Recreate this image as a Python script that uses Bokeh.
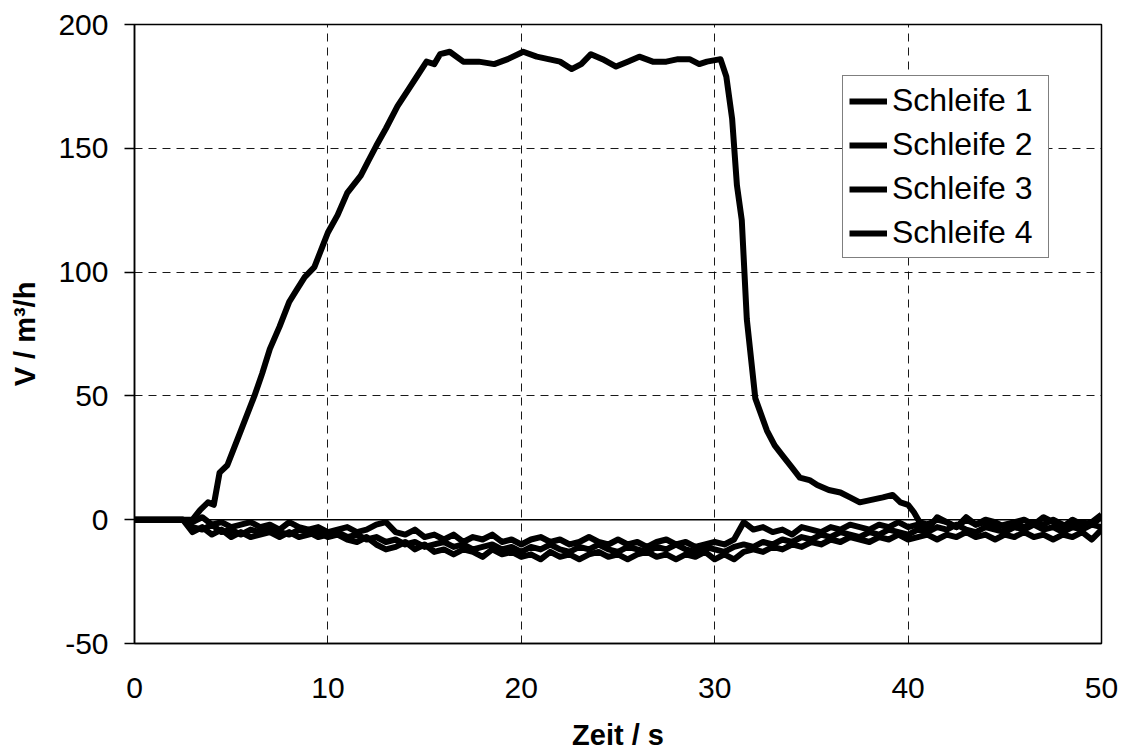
from bokeh.plotting import figure
from bokeh.models import Range1d, FixedTicker, Span, Legend, LegendItem, ColumnDataSource
from bokeh.embed import file_html
from bokeh.resources import INLINE

# ---------------- data ----------------
x_ticks = [0, 10, 20, 30, 40, 50]
y_ticks = [-50, 0, 50, 100, 150, 200]
series_names = ["Schleife 1", "Schleife 2", "Schleife 3", "Schleife 4"]

t1 = [0, 1, 2, 3.0, 3.4, 3.8, 4.1, 4.4, 4.8, 5.1, 5.5, 6.2, 6.6, 7.0, 7.5, 8.0, 8.4, 8.8, 9.3, 9.7,
      10.0, 10.5, 11.0, 11.7, 12.1, 12.5, 13.0, 13.6, 14.1, 14.6, 15.1, 15.5, 15.8, 16.3, 17.0, 17.8,
      18.6, 19.3, 20.1, 20.8, 21.4, 22.0, 22.6, 23.1, 23.6, 24.2, 24.9, 25.5, 26.1, 26.8, 27.5, 28.1,
      28.7, 29.2, 29.6, 30.3, 30.6, 30.9, 31.15, 31.4, 31.66, 32.1, 32.7, 33.1, 33.5, 34.0, 34.4, 34.9,
      35.3, 35.9, 36.5, 37.0, 37.5, 38.1, 38.7, 39.2, 39.6, 40.0, 40.3, 40.6, 41.0, 41.5, 42.0, 42.5,
      43.0, 43.5, 44.0, 44.5, 45.0, 45.5, 46.0, 46.5, 47.0, 47.5, 48.0, 48.5, 49.0, 49.5, 50.0]
v1 = [0, 0, 0, 0, 4, 7, 6, 19, 22, 28, 36, 50, 59, 69, 78, 88, 93, 98, 102, 110,
      116, 123, 132, 139, 145, 151, 158, 167, 173, 179, 185, 184, 188, 189, 185, 185,
      184, 186, 189, 187, 186, 185, 182, 184, 188, 186, 183, 185, 187, 185, 185, 186,
      186, 184, 185, 186, 179, 162, 135, 121, 81, 49, 36, 30, 26, 21, 17, 16,
      14, 12, 11, 9, 7, 8, 9, 10, 7, 6, 3, -1, -2, 0, -1, -3,
      1, -2, 0, -1, -3, -1, 0, -2, 1, -1, -3, 0, -2, -1, 2]

# Schleife 2-4 sampled every 0.5 s from 0 s to 50 s
v2 = [0, 0, 0, 0, 0, 0,
      -1, 1, -2, -1, -3, -2, -1, -3, -2, -4, -1, -3, -4, -3,
      -5, -4, -3, -5, -4, -2, -1, -5, -6, -4, -7, -6, -8, -6,
      -9, -7, -8, -6, -9, -8, -10, -8, -7, -9, -8, -10, -9, -7,
      -9, -10, -8, -10, -9, -11, -9, -8, -10, -9, -11, -10, -9, -10,
      -8, -1, -4, -3, -5, -4, -6, -3, -4, -5, -3, -4, -2, -3,
      -4, -2, -3, -1, -3, -2, -4, 1, -1, -3, 0, -2, -1, -3,
      -2, -1, -3, -1, -2, 0, -2, -3, -1, -2, 1]
v3 = [0, 0, 0, 0, 0, 0,
      -3, -4, -2, -5, -4, -6, -4, -5, -3, -5, -6, -4, -5, -7,
      -6, -5, -7, -6, -8, -7, -9, -8, -10, -9, -11, -10, -9, -11,
      -10, -12, -11, -10, -12, -11, -13, -11, -12, -10, -12, -13, -11, -12,
      -10, -12, -13, -11, -12, -13, -11, -12, -10, -12, -13, -11, -12, -13,
      -11, -10, -11, -9, -10, -8, -9, -7, -8, -6, -7, -5, -6, -7,
      -5, -6, -4, -5, -6, -4, -5, -3, -4, -2, -4, -5, -3, -4,
      -5, -3, -4, -2, -4, -3, -5, -3, -4, -2, -3]
v4 = [0, 0, 0, 0, 0, 0,
      -5, -3, -6, -4, -7, -5, -7, -6, -5, -7, -5, -7, -6, -5,
      -7, -6, -8, -9, -7, -10, -12, -11, -9, -12, -10, -13, -12, -14,
      -12, -13, -15, -12, -14, -13, -15, -14, -16, -13, -15, -14, -16, -14,
      -13, -15, -14, -16, -14, -13, -15, -14, -16, -14, -15, -13, -16, -14,
      -16, -13, -12, -13, -11, -12, -10, -11, -9, -10, -8, -9, -7, -8,
      -9, -7, -8, -6, -8, -7, -6, -8, -6, -7, -5, -7, -6, -8,
      -6, -7, -5, -7, -6, -8, -6, -7, -5, -8, -4]

FONT = "Liberation Sans"

p = figure(width=1127, height=755, output_backend="svg", toolbar_location=None,
           x_range=Range1d(0, 50), y_range=Range1d(-50, 200),
           min_border_left=134, min_border_right=26, min_border_top=24, min_border_bottom=112)
p.background_fill_color = "white"
p.border_fill_color = "white"
p.outline_line_color = "black"
p.outline_line_width = 1.5

# axes
p.xaxis.ticker = FixedTicker(ticks=x_ticks)
p.yaxis.ticker = FixedTicker(ticks=y_ticks)
p.yaxis.major_label_overrides = {-50: "-50"}
for ax in (p.xaxis, p.yaxis):
    ax.axis_line_color = "black"
    ax.axis_line_width = 1.5
    ax.major_label_text_font = FONT
    ax.major_label_text_font_size = "30px"
    ax.major_label_text_color = "black"
    ax.axis_label_text_font = FONT
    ax.axis_label_text_font_size = "29px"
    ax.axis_label_text_font_style = "bold"
    ax.axis_label_text_color = "black"
    ax.minor_tick_line_color = None
    ax.major_tick_line_color = "black"
    ax.major_tick_line_width = 1.5
    ax.major_tick_in = 0
p.xaxis.major_tick_out = 0
p.yaxis.major_tick_out = 10
p.xaxis.major_label_standoff = 34
p.yaxis.major_label_standoff = 16
p.xaxis.axis_label = "Zeit / s"
p.yaxis.axis_label = "V / m³/h"
p.xaxis.axis_label_standoff = 18
p.yaxis.axis_label_standoff = 14

# grid
for g in (p.xgrid, p.ygrid):
    g.grid_line_color = "black"
    g.grid_line_width = 1
    g.grid_line_dash = "8 6"
    g.grid_line_alpha = 0.9

zero = Span(location=0, dimension="width", line_color="black", line_width=1.5)
p.add_layout(zero)

# lines
renderers = []
all_series = [(t1, v1)] + [([0.5 * i for i in range(len(v))], v) for v in (v2, v3, v4)]
for (tt, vv) in all_series:
    src = ColumnDataSource(data=dict(t=tt, v=vv))
    r = p.line("t", "v", source=src, line_color="black", line_width=6, line_join="round")
    renderers.append(r)

legend = Legend(items=[LegendItem(label=n, renderers=[r]) for n, r in zip(series_names, renderers)],
                location=(708, 385))
legend.label_text_font = FONT
legend.label_text_font_size = "32px"
legend.label_text_color = "black"
legend.label_height = 36
legend.label_width = 150
legend.glyph_height = 36
legend.glyph_width = 38
legend.label_standoff = 5
legend.spacing = 7
legend.padding = 6
legend.margin = 0
legend.border_line_color = "black"
legend.border_line_width = 1.5
legend.background_fill_color = "white"
legend.background_fill_alpha = 1
p.add_layout(legend, "center")

open("out.html", "w").write(file_html(p, INLINE))
